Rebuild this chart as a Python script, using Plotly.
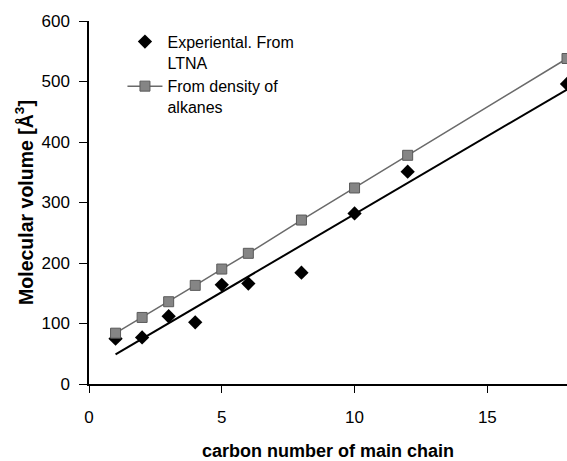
import numpy as np
import plotly.graph_objects as go

carbon = [1, 2, 3, 4, 5, 6, 8, 10, 12, 18]
experimental = [75, 77, 112, 102, 164, 166, 184, 282, 351, 496]
density = [84, 110, 136, 163, 190, 216, 271, 324, 378, 538]

x_ticks = [0, 5, 10, 15]
y_ticks = [0, 100, 200, 300, 400, 500, 600]

slope, intercept = np.polyfit(carbon, experimental, 1)
trend_x = [carbon[0], carbon[-1]]
trend_y = [slope * v + intercept for v in trend_x]

font_family = "Liberation Sans, Arial, sans-serif"

fig = go.Figure()
fig.add_trace(go.Scatter(
    x=trend_x, y=trend_y, mode="lines",
    line=dict(color="black", width=2), showlegend=False, hoverinfo="skip"))
fig.add_trace(go.Scatter(
    x=carbon, y=experimental, mode="markers", name="Experiental. From<br>LTNA",
    marker=dict(symbol="diamond", size=11, color="black")))
fig.add_trace(go.Scatter(
    x=carbon, y=density, mode="lines+markers", name="From density of<br>alkanes",
    line=dict(color="#6a6a6a", width=1.5),
    marker=dict(symbol="square", size=10, color="#858585",
                line=dict(color="#5a5a5a", width=1))))

fig.update_layout(
    width=567, height=461,
    margin=dict(l=89, r=0, t=21, b=77),
    paper_bgcolor="white", plot_bgcolor="white",
    font=dict(family=font_family, color="black", size=17),
    legend=dict(x=0.07, y=0.99, xanchor="left", yanchor="top",
                bgcolor="rgba(0,0,0,0)", font=dict(size=16),
                tracegroupgap=4, itemwidth=35, valign="top"),
    xaxis=dict(range=[0, 18], tickvals=x_ticks, showgrid=False, zeroline=False,
               showline=True, linecolor="black", linewidth=1.5,
               ticks="outside", ticklen=7, tickcolor="black",
               ticklabelstandoff=10, automargin=False,
               title=dict(text="<b>carbon number of main chain</b>",
                          font=dict(size=18), standoff=23)),
    yaxis=dict(range=[0, 600], tickvals=y_ticks, showgrid=False, zeroline=False,
               showline=True, linecolor="black", linewidth=1.5,
               ticks="outside", ticklen=8, tickcolor="black",
               ticklabelstandoff=6, automargin=False,
               title=dict(text="<b>Molecular volume [Å<sup>3</sup>]</b>",
                          font=dict(size=19.5), standoff=3)),
)

fig.write_html("out.html")
